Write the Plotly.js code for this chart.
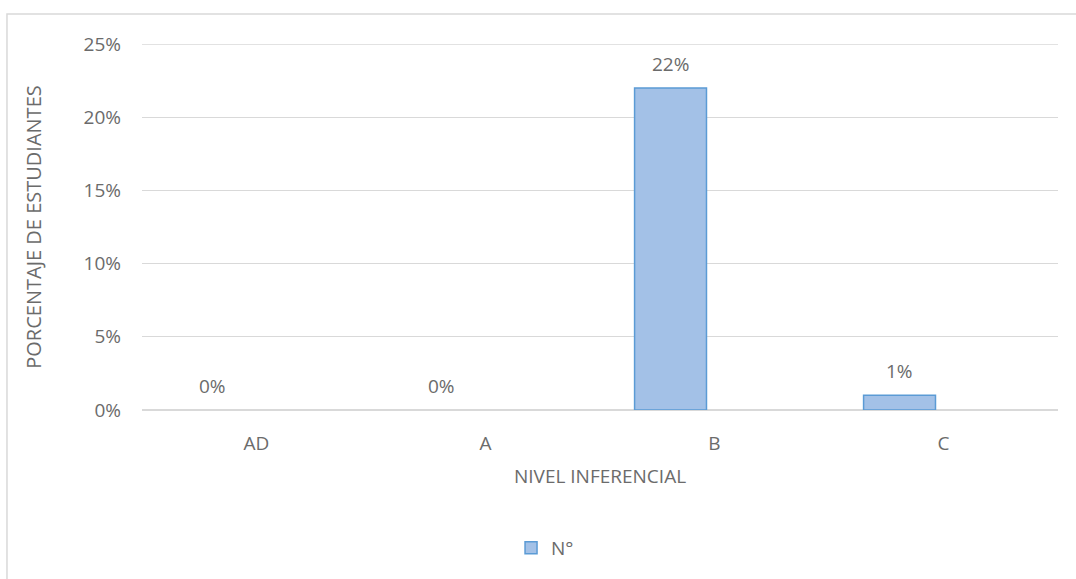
<!DOCTYPE html>
<html>
<head>
<meta charset="utf-8">
<script src="https://cdn.plot.ly/plotly-3.0.1.min.js"></script>
<style>html,body{margin:0;padding:0;background:#fff;}#chart{width:1076px;height:579px;}</style>
</head>
<body>
<div id="chart"></div>
<script>
const categories = ["AD", "A", "B", "C"];
const values = [0, 0, 0.22, 0.01];
const labels = ["0%", "0%", "22%", "1%"];
const seriesName = "N°";
const yTicks = [0, 0.05, 0.10, 0.15, 0.20, 0.25];
const yTickText = ["0%", "5%", "10%", "15%", "20%", "25%"];

const fontFam = "'Open Sans', 'Liberation Sans', sans-serif";
const gray = "#6b6b6b";
const fs = 19;

// zero-height bars are not drawn (no outline), as in the original
const trace = {
  type: "bar",
  x: categories,
  y: values.map(v => v > 0 ? v : null),
  name: seriesName,
  width: 0.314,
  offset: -0.349,
  marker: {color: "#a3c1e7", line: {color: "#5b9bd5", width: 1.5}},
  showlegend: true,
  hoverinfo: "none"
};

const annotations = categories.map((c, i) => ({
  x: c, y: values[i], xref: "x", yref: "y",
  text: labels[i], showarrow: false,
  xshift: -44, yanchor: "bottom", yshift: 9,
  font: {family: fontFam, size: fs, color: gray}
}));

const layout = {
  width: 1076, height: 579,
  margin: {l: 142, r: 18, t: 44, b: 169},
  paper_bgcolor: "#fff", plot_bgcolor: "#fff",
  font: {family: fontFam, size: fs, color: gray},
  xaxis: {
    type: "category",
    showgrid: false, zeroline: false, showline: false, ticks: "",
    ticklabelstandoff: 20,
    tickfont: {family: fontFam, size: fs, color: gray},
    title: {text: "NIVEL INFERENCIAL", standoff: 14, font: {family: fontFam, size: fs, color: gray}},
    automargin: false
  },
  yaxis: {
    range: [0, 0.25],
    tickvals: yTicks, ticktext: yTickText,
    showgrid: true, gridcolor: "#d9d9d9", gridwidth: 1.3,
    zeroline: true, zerolinecolor: "#d9d9d9", zerolinewidth: 1.5,
    showline: false, ticks: "",
    ticklabelstandoff: 20,
    tickfont: {family: fontFam, size: fs, color: gray},
    title: {text: "PORCENTAJE DE ESTUDIANTES", standoff: 36, font: {family: fontFam, size: 20, color: gray}},
    automargin: false
  },
  legend: {
    orientation: "h", x: 0.44, xanchor: "center", y: -0.377, yanchor: "middle",
    font: {family: fontFam, size: fs, color: gray}
  },
  annotations: annotations,
  shapes: [{
    type: "rect", xref: "paper", yref: "paper",
    x0: -0.1474, x1: 1.03, y0: -0.6, y1: 1.082,
    line: {color: "#d9d9d9", width: 1.5}, fillcolor: "rgba(0,0,0,0)", layer: "below"
  }, {
    type: "line", xref: "paper", yref: "y",
    x0: 0, x1: 1, y0: yTicks[yTicks.length - 1], y1: yTicks[yTicks.length - 1],
    line: {color: "#d9d9d9", width: 1.3}, layer: "below"
  }]
};

Plotly.newPlot("chart", [trace], layout, {displayModeBar: false, staticPlot: true});
</script>
</body>
</html>
